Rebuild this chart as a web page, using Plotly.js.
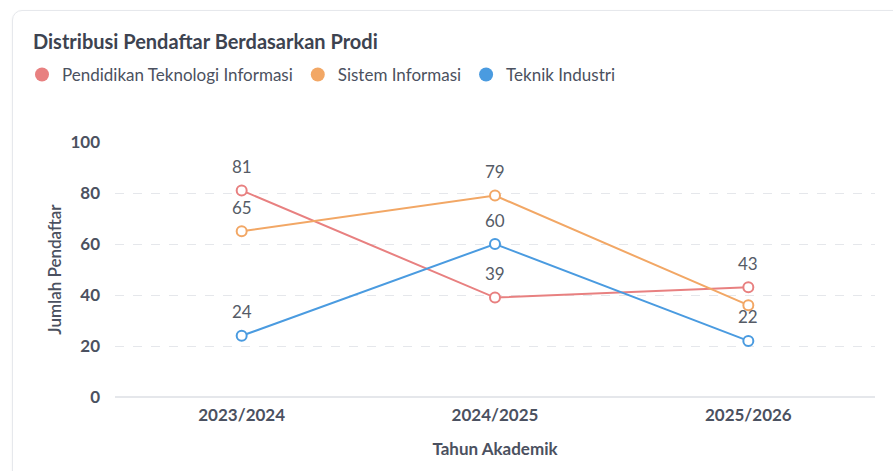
<!DOCTYPE html>
<html>
<head>
<meta charset="utf-8">
<script src="https://cdn.plot.ly/plotly-3.0.1.min.js"></script>
<style>
html,body{margin:0;padding:0;background:#fff;width:893px;height:471px;overflow:hidden;}
#card{position:absolute;left:12px;top:10px;width:900px;height:480px;border:1px solid #e6e8ec;border-radius:10px;box-shadow:0 1px 3px rgba(0,0,0,0.05);}
#chart{position:absolute;left:0;top:0;width:893px;height:471px;}
</style>
</head>
<body>
<div id="card"></div>
<div id="chart"></div>
<script>
const categories = ["2023/2024", "2024/2025", "2025/2026"];
const seriesNames = ["Pendidikan Teknologi Informasi", "Sistem Informasi", "Teknik Industri"];
const pti = [81, 39, 43];
const si = [65, 79, 36];
const ti = [24, 60, 22];
const labelShownPti = [true, true, true];
const labelShownSi = [true, true, false];
const labelShownTi = [true, true, true];
const colors = ["#e88080", "#f2a765", "#4a9be0"];

const values = [pti, si, ti];
const shown = [labelShownPti, labelShownSi, labelShownTi];
const FONT = "Lato, 'Open Sans', sans-serif";
const TXT = "#4b5160";

const traces = [];
const annotations = [];
values.forEach((v, i) => {
  traces.push({
    x: categories, y: v, type: "scatter", mode: "lines+markers",
    name: seriesNames[i], showlegend: false,
    line: {color: colors[i], width: 2},
    marker: {symbol: "circle", size: 10, color: "#ffffff", line: {color: colors[i], width: 2}},
    cliponaxis: false,
    hoverinfo: "x+y+name"
  });
  v.forEach((val, j) => {
    if (shown[i][j]) {
      annotations.push({
        x: categories[j], y: val, xref: "x", yref: "y",
        text: String(val), showarrow: false, yshift: 24,
        font: {family: FONT, size: 17, color: "#555b66"}
      });
    }
  });
});
values.forEach((v, i) => {
  traces.push({
    x: [null], y: [null], type: "scatter", mode: "markers",
    name: seriesNames[i], showlegend: true,
    marker: {symbol: "circle", size: 14, color: colors[i]}
  });
});

const layout = {
  width: 893, height: 471,
  paper_bgcolor: "rgba(0,0,0,0)", plot_bgcolor: "rgba(0,0,0,0)",
  margin: {l: 115, r: 18, t: 142, b: 74},
  font: {family: FONT, color: TXT},
  title: {
    text: "Distribusi Pendaftar Berdasarkan Prodi",
    x: 33/893, xanchor: "left", xref: "container",
    y: 1 - 42/471, yanchor: "middle", yref: "container",
    font: {family: FONT, size: 20, color: "#3d4350", weight: 700}
  },
  legend: {
    orientation: "h", xref: "container", yref: "container",
    x: 22/893, xanchor: "left", y: 1 - 75/471, yanchor: "middle",
    font: {family: FONT, size: 17, color: TXT},
    itemwidth: 30, tracegroupgap: 0
  },
  annotations: annotations,
  xaxis: {
    type: "category", range: [-0.5, 2.5],
    showgrid: false, showline: false, zeroline: false,
    ticks: "", ticklabelstandoff: 6,
    tickfont: {family: FONT, size: 17, color: TXT, weight: 700},
    title: {text: "Tahun Akademik", standoff: 19,
      font: {family: FONT, size: 17, color: TXT, weight: 700}}
  },
  yaxis: {
    range: [0, 100], tickvals: [0, 20, 40, 60, 80, 100],
    showgrid: true, gridcolor: "#e5e7eb", griddash: "dash", gridwidth: 1,
    zeroline: true, zerolinecolor: "#e5e7eb", zerolinewidth: 1.5,
    showline: false, ticks: "", ticklabelstandoff: 14,
    tickfont: {family: FONT, size: 17, color: TXT, weight: 700},
    title: {text: "Jumlah Pendaftar", standoff: 4,
      font: {family: FONT, size: 17, color: TXT, weight: 600}}
  },
  showlegend: true
};

Plotly.newPlot("chart", traces, layout, {displayModeBar: false, staticPlot: true});
</script>
</body>
</html>
